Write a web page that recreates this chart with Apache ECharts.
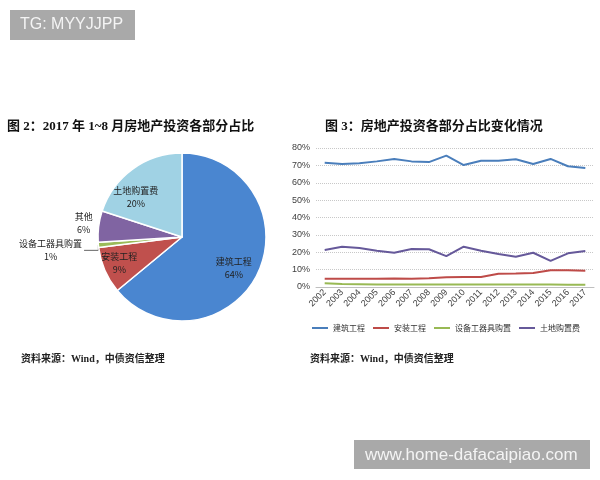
<!DOCTYPE html>
<html>
<head>
<meta charset="utf-8">
<script src="https://cdn.jsdelivr.net/npm/echarts@6/dist/echarts.min.js"></script>
<style>
html,body{margin:0;padding:0;background:#fff;}
#main{width:600px;height:480px;}
</style>
</head>
<body>
<div id="main"></div>
<script>
// ---- Pie data (图2) ----
const pieCategories = ['建筑工程', '安装工程', '设备工器具购置', '其他', '土地购置费'];
const pieValues = [64, 9, 1, 6, 20];
const pieColors = ['#4a86d0', '#c0504d', '#9bbb59', '#8064a2', '#a0d2e4'];
const pieInsideLabels = ['建筑工程', '安装工程', '土地购置费'];

// ---- Line data (图3) ----
const years = ['2002','2003','2004','2005','2006','2007','2008','2009','2010','2011','2012','2013','2014','2015','2016','2017'];
const lineNames = ['建筑工程', '安装工程', '设备工器具购置', '土地购置费'];
const construction = [71.5, 70.8, 71.2, 72.3, 73.7, 72.3, 71.9, 75.6, 70.2, 72.7, 72.7, 73.5, 70.8, 73.7, 69.5, 68.5];
const installation = [4.8, 4.7, 4.7, 4.8, 4.9, 4.8, 5.0, 5.6, 5.7, 5.7, 7.6, 7.7, 8.1, 9.6, 9.6, 9.4];
const equipment = [2.2, 1.7, 1.6, 1.5, 1.5, 1.5, 1.5, 1.4, 1.4, 1.4, 1.4, 1.4, 1.4, 1.4, 1.3, 1.3];
const land = [21.3, 23.2, 22.4, 20.9, 19.7, 21.9, 21.7, 17.8, 23.2, 20.9, 19.0, 17.4, 19.7, 15.0, 19.4, 20.7];
const lineColors = ['#4a7ebb', '#be4b48', '#98b954', '#66599a'];
const yTickMax = 80, yTickStep = 10;

const titleFont = "'Liberation Serif','Noto Sans CJK SC',serif";
const cjkFont = "'Noto Sans CJK SC','Liberation Sans',sans-serif";

// label nudges (style only)
const insideLabelShift = {'建筑工程': [-7, 3], '安装工程': [-3, 0], '土地购置费': [-8, 13]};

const chart = echarts.init(document.getElementById('main'), null, {renderer: 'canvas'});

const visiblePieData = pieCategories.map((n, i) => {
  const inside = pieInsideLabels.indexOf(n) >= 0;
  return {
    name: n,
    value: pieValues[i],
    itemStyle: {color: pieColors[i]},
    label: {show: !inside},
    labelLine: n === '其他' ? {show: false, length: 1, length2: 1} : {show: !inside, length: 1, length2: 16}
  };
});
const labelPieData = pieCategories.map((n, i) => ({
  name: n,
  value: pieValues[i],
  label: {show: pieInsideLabels.indexOf(n) >= 0}
}));

const option = {
  animation: false,
  backgroundColor: '#fff',
  title: [
    {text: '图 2：2017 年 1~8 月房地产投资各部分占比', left: 7, top: 120, padding: 0,
     textStyle: {fontSize: 13, fontWeight: 'bold', fontFamily: titleFont, color: '#111'}},
    {text: '图 3：房地产投资各部分占比变化情况', left: 325, top: 120, padding: 0,
     textStyle: {fontSize: 13, fontWeight: 'bold', fontFamily: titleFont, color: '#111'}}
  ],
  legend: {
    data: lineNames,
    left: 312, top: 324,
    itemWidth: 16, itemHeight: 2, itemGap: 8,
    icon: 'rect',
    padding: 0,
    textStyle: {fontSize: 8, color: '#333', fontFamily: cjkFont}
  },
  grid: {left: 316, top: 148, width: 278, height: 139},
  xAxis: {
    type: 'category',
    data: years,
    boundaryGap: true,
    axisTick: {show: false},
    axisLine: {lineStyle: {color: '#bfbfbf', width: 1}},
    axisLabel: {rotate: 45, interval: 0, fontSize: 9, margin: 4, color: '#404040', fontFamily: "'Liberation Sans',sans-serif"}
  },
  yAxis: {
    type: 'value',
    min: 0, max: yTickMax, interval: yTickStep,
    axisLine: {show: false},
    axisTick: {show: false},
    axisLabel: {formatter: '{value}%', fontSize: 9, margin: 6, color: '#404040', fontFamily: "'Liberation Sans',sans-serif"},
    splitLine: {lineStyle: {type: 'dotted', color: '#c8c8c8', width: 1}}
  },
  series: [
    {type: 'pie', name: 'pie', center: [182, 237], radius: 84, startAngle: 90, clockwise: true,
     avoidLabelOverlap: true,
     itemStyle: {borderColor: '#fff', borderWidth: 1.5},
     label: {position: 'outside', distanceToLabelLine: 2,
       formatter: '{t|{b}}\n{t|{d}%}',
       rich: {t: {align: 'center', fontSize: 9, lineHeight: 13, color: '#222', fontFamily: cjkFont}}},
     labelLine: {lineStyle: {color: '#666', width: 1}},
     labelLayout: function (p) {
       if (p.dataIndex === 3) return {dx: -4, dy: -3};
       return {};
     },
     emphasis: {disabled: true},
     data: visiblePieData},
    {type: 'pie', name: 'pieLabels', center: [182, 237], radius: [0, 124], startAngle: 90, clockwise: true,
     silent: true,
     itemStyle: {color: 'rgba(0,0,0,0)', borderWidth: 0},
     label: {position: 'inside',
       formatter: '{t|{b}}\n{t|{d}%}',
       rich: {t: {align: 'center', fontSize: 9, lineHeight: 13, color: '#222', fontFamily: cjkFont}}},
     labelLine: {show: false},
     labelLayout: function (p) {
       const s = insideLabelShift[pieCategories[p.dataIndex]];
       return s ? {dx: s[0], dy: s[1]} : {};
     },
     emphasis: {disabled: true},
     data: labelPieData},
    {type: 'line', name: lineNames[0], data: construction, symbol: 'none', lineStyle: {width: 2, color: lineColors[0]}, itemStyle: {color: lineColors[0]}},
    {type: 'line', name: lineNames[1], data: installation, symbol: 'none', lineStyle: {width: 2, color: lineColors[1]}, itemStyle: {color: lineColors[1]}},
    {type: 'line', name: lineNames[2], data: equipment, symbol: 'none', lineStyle: {width: 2, color: lineColors[2]}, itemStyle: {color: lineColors[2]}},
    {type: 'line', name: lineNames[3], data: land, symbol: 'none', lineStyle: {width: 2, color: lineColors[3]}, itemStyle: {color: lineColors[3]}}
  ],
  graphic: [
    {type: 'rect', shape: {x: 10, y: 10, width: 125, height: 30}, style: {fill: '#a9a9a9'}, silent: true},
    {type: 'text', x: 20, y: 25, style: {text: 'TG: MYYJJPP', fill: '#f4f4f4', font: "16px 'Liberation Sans', sans-serif", verticalAlign: 'middle'}},
    {type: 'rect', shape: {x: 354, y: 440, width: 236, height: 29}, style: {fill: '#a9a9a9'}, silent: true},
    {type: 'text', x: 365, y: 455, style: {text: 'www.home-dafacaipiao.com', fill: '#f4f4f4', font: "17px 'Liberation Sans', sans-serif", verticalAlign: 'middle'}},
    {type: 'text', x: 21, y: 359, style: {text: '资料来源：Wind，中债资信整理', fill: '#222', font: "bold 10px 'Liberation Serif','Noto Sans CJK SC'", verticalAlign: 'middle'}},
    {type: 'text', x: 310, y: 359, style: {text: '资料来源：Wind，中债资信整理', fill: '#222', font: "bold 10px 'Liberation Serif','Noto Sans CJK SC'", verticalAlign: 'middle'}}
  ]
};
chart.setOption(option);
</script>
</body>
</html>
